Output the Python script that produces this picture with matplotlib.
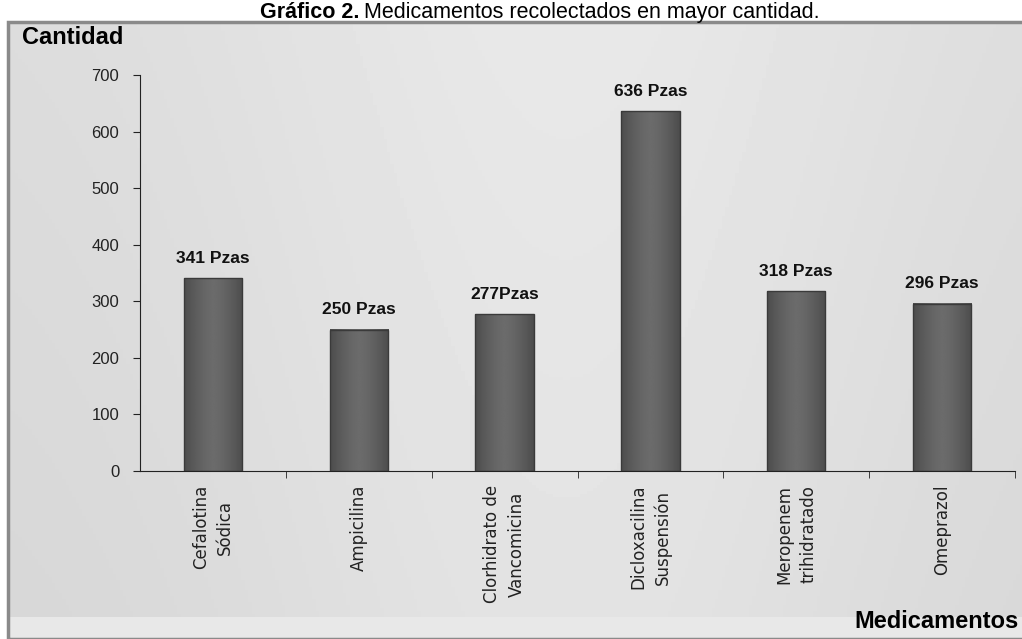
import numpy as np
import matplotlib.pyplot as plt
from matplotlib.patches import Rectangle

plt.rcParams['font.family'] = ['Liberation Sans', 'DejaVu Sans']

medicamentos = ["Cefalotina\nSódica", "Ampicilina", "Clorhidrato de\nVancomicina",
                "Dicloxacilina\nSuspensión", "Meropenem\ntrihidratado", "Omeprazol"]
cantidades = [341, 250, 277, 636, 318, 296]
etiquetas = ["341 Pzas", "250 Pzas", "277Pzas", "636 Pzas", "318 Pzas", "296 Pzas"]
yticks = [0, 100, 200, 300, 400, 500, 600, 700]

fig = plt.figure(figsize=(10.22, 6.39), dpi=100)
fig.patch.set_facecolor('white')

# fondo del grafico con degradado gris
bg = fig.add_axes([8/1022, 0, 1 - 8/1022, 1 - 22/639])
xx = np.linspace(0, 1, 300)
yy = np.linspace(0, 1, 200)
X, Y = np.meshgrid(xx, yy)
shade = 0.84 + 0.05 * np.exp(-((X - 0.55) ** 2) / 0.12) + 0.02 * Y
shade[Y < 0.035] = 0.91
bg.imshow(shade, cmap='gray', vmin=0, vmax=1, aspect='auto', extent=[0, 1, 0, 1], origin='lower')
bg.set_xlim(0, 1)
bg.set_ylim(0, 1)
bg.axis('off')
bg.add_patch(Rectangle((0, 0), 1.2, 1, fill=False, edgecolor='#8a8a8a', lw=2.5,
                       transform=bg.transAxes, clip_on=False))

ax = fig.add_axes([140/1022, 1 - 471/639, 875/1022, (471 - 75)/639])
ax.patch.set_alpha(0)
x = np.arange(len(cantidades))
ancho = 0.4

# barras con sombreado horizontal
grad = np.abs(np.linspace(-1, 1, 100)) ** 1.5
grad = 0.42 - 0.12 * grad
for xi, v in zip(x, cantidades):
    ax.imshow(grad[np.newaxis, :], cmap='gray', vmin=0, vmax=1, aspect='auto',
              extent=[xi - ancho/2, xi + ancho/2, 0, v], zorder=2)
    ax.add_patch(Rectangle((xi - ancho/2, 0), ancho, v, fill=False,
                           edgecolor='#3a3a3a', lw=1, zorder=3))

for xi, v, t in zip(x, cantidades, etiquetas):
    ax.annotate(t, (xi, v), xytext=(0, 9), textcoords='offset points',
                ha='center', va='bottom', fontsize=12.5, fontweight='bold', color='#111111')

ax.set_xlim(-0.5, len(cantidades) - 0.5)
ax.set_ylim(0, 700)
ax.set_yticks(yticks)
ax.set_yticklabels([str(t) for t in yticks], fontsize=12, color='#222222')
ax.set_xticks(x)
ax.set_xticklabels(medicamentos, rotation=90, fontsize=12, va='top', ha='center',
                   linespacing=1.45, color='#222222', family='DejaVu Sans')
ax.tick_params(axis='x', which='major', length=0, pad=10)
ax.set_xticks(np.arange(0.5, len(cantidades) - 0.4, 1), minor=True)
ax.tick_params(axis='x', which='minor', length=5, direction='out', color='#222222')
ax.tick_params(axis='y', length=5, direction='out', color='#222222', pad=10)
for s in ['top', 'right']:
    ax.spines[s].set_visible(False)
ax.spines['left'].set_color('#222222')
ax.spines['bottom'].set_color('#222222')

fig.text(22/1022, 1 - 38/639, "Cantidad", fontsize=17, fontweight='bold', va='center', ha='left')
fig.text(1019/1022, 1 - 621/639, "Medicamentos", fontsize=17, fontweight='bold', va='center', ha='right')

# titulo: parte en negrita y parte normal, centrado en conjunto
ty = 1 - 18/639
t1 = fig.text(0, ty, "Gráfico 2.", fontsize=15.5, fontweight='bold', va='baseline', ha='left')
t2 = fig.text(0, ty, "Medicamentos recolectados en mayor cantidad.", fontsize=15.5,
              va='baseline', ha='left')
r = fig.canvas.get_renderer()
w1 = t1.get_window_extent(r).width
w2 = t2.get_window_extent(r).width
x0 = 540 - (w1 + w2 + 5) / 2
t1.set_x(x0 / 1022)
t2.set_x((x0 + w1 + 5) / 1022)

fig.savefig("out.png", dpi=100)
